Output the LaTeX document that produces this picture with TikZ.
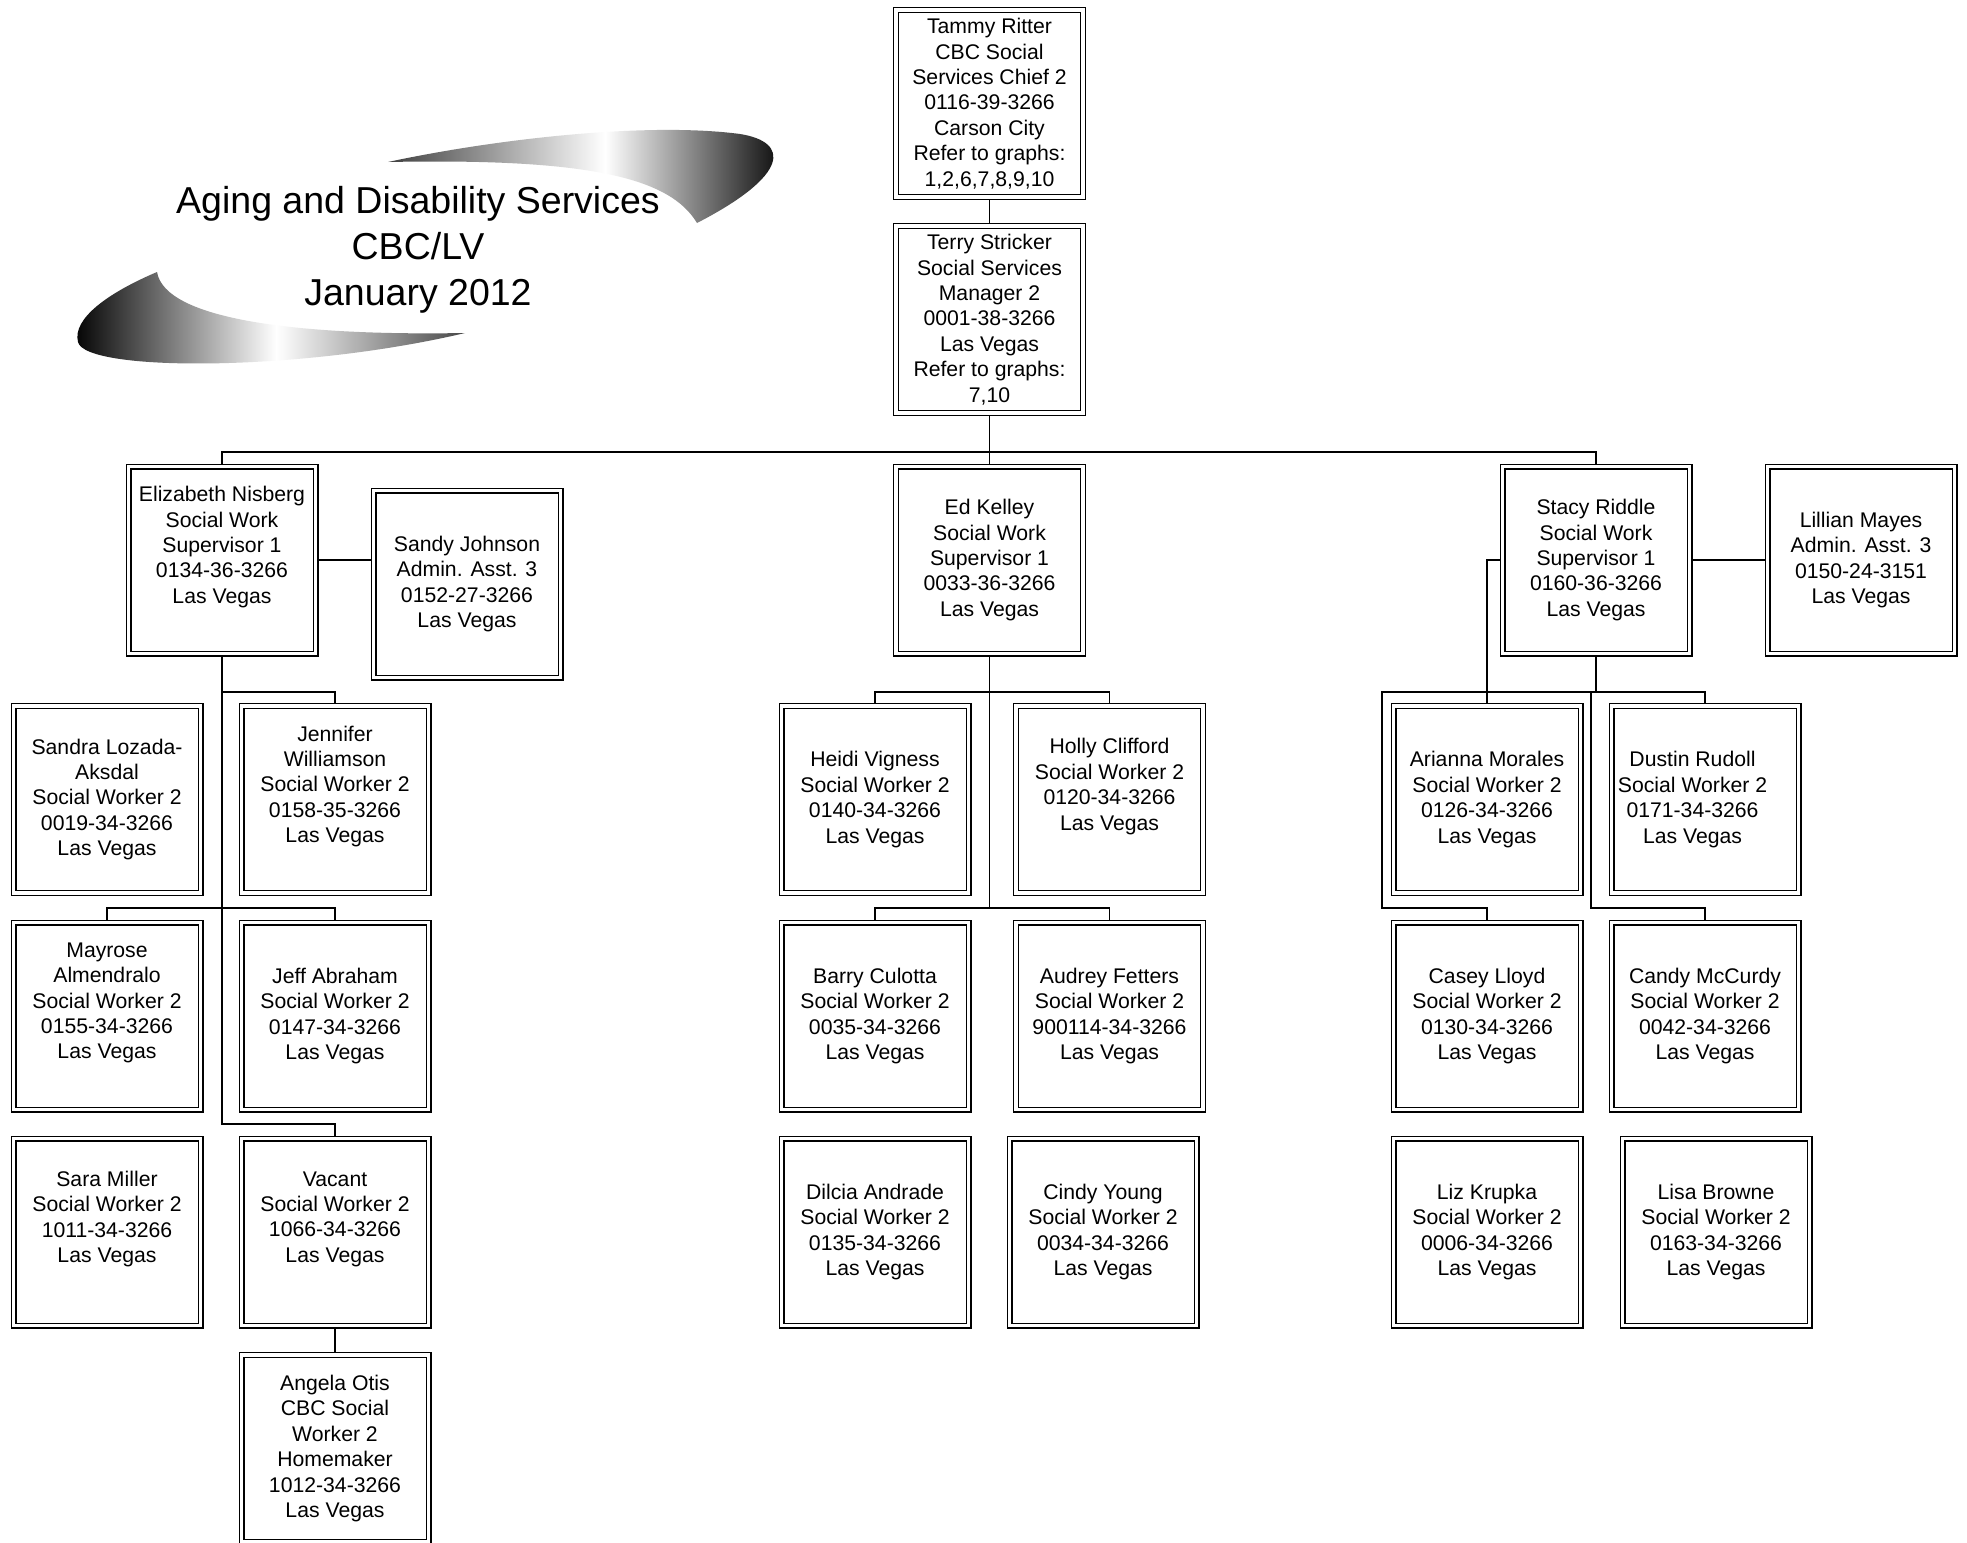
\documentclass[tikz,border=0pt]{standalone}
\usepackage{fontspec}
\setmainfont{Liberation Sans}
\pgfdeclarehorizontalshading{upswoosh}{100bp}{color(0bp)=(black!75); color(25bp)=(black!75); color(52bp)=(white); color(75bp)=(black); color(100bp)=(black)}
\pgfdeclarehorizontalshading{lowswoosh}{100bp}{color(0bp)=(black); color(25bp)=(black); color(51bp)=(white); color(75bp)=(black!72); color(100bp)=(black!72)}
\newcommand{\lshline}[1]{\mbox{#1\kern25pt}}
\begin{document}
\begin{tikzpicture}[x=1pt,y=-1pt,
  box/.style={draw, double, line width=1.3pt, double distance=3.4pt,
    minimum width=187pt, minimum height=187pt, inner sep=0pt, outer sep=3pt,
    align=center, font=\fontsize{21.2}{25.4}\selectfont},
  conn/.style={draw, line width=1.3pt},
  titletext/.style={align=center, font=\fontsize{37.5}{46}\selectfont}]
\useasboundingbox (0,0) rectangle (1967,1542);
\fill[white] (0,0) rectangle (1967,1542);

% title swooshes
\shade[shading=upswoosh] (388,162) .. controls (500,138) and (650,122) .. (740,134)
  .. controls (790,142) and (790,175) .. (697,223)
  .. controls (670,178) and (590,158) .. cycle;
\shade[shading=lowswoosh] (157,272) .. controls (110,292) and (72,318) .. (78,342)
  .. controls (85,372) and (300,372) .. (465,333)
  .. controls (300,336) and (165,320) .. cycle;
\node[titletext] (title) at (418,250) {Aging and Disability Services\\CBC/LV\\January 2012};

% boxes
\node[box] (tammy) at (989.5,103.5) {Tammy Ritter\\CBC Social\\Services Chief 2\\0116-39-3266\\Carson City\\Refer to graphs:\\1,2,6,7,8,9,10};
\node[box] (terry) at (989.5,319.5) {Terry Stricker\\Social Services\\Manager 2\\0001-38-3266\\Las Vegas\\Refer to graphs:\\7,10};
\node[box] (ed) at (989.5,560) {Ed Kelley\\Social Work\\Supervisor 1\\0033-36-3266\\Las Vegas};
\node[box] (eliz) at (222,560) {Elizabeth Nisberg\\Social Work\\Supervisor 1\\0134-36-3266\\Las Vegas\\[5pt]\mbox{}};
\node[box] (sandy) at (467,584) {Sandy Johnson\\Admin. Asst. 3\\0152-27-3266\\Las Vegas};
\node[box] (stacy) at (1596,560) {Stacy Riddle\\Social Work\\Supervisor 1\\0160-36-3266\\Las Vegas};
\node[box] (lillian) at (1861,560) {Lillian Mayes\\Admin. Asst. 3\\0150-24-3151\\Las Vegas};

\node[box] (sandra) at (107,799.5) {Sandra Lozada-\\Aksdal\\Social Worker 2\\0019-34-3266\\Las Vegas};
\node[box] (jennifer) at (335,799.5) {Jennifer\\Williamson\\Social Worker 2\\0158-35-3266\\Las Vegas\\[5pt]\mbox{}};
\node[box] (mayrose) at (107,1016) {Mayrose\\Almendralo\\Social Worker 2\\0155-34-3266\\Las Vegas\\[5pt]\mbox{}};
\node[box] (jeff) at (335,1016) {Jeff Abraham\\Social Worker 2\\0147-34-3266\\Las Vegas};
\node[box] (sara) at (107,1232) {Sara Miller\\Social Worker 2\\1011-34-3266\\Las Vegas\\[5pt]\mbox{}};
\node[box] (vacant) at (335,1232) {Vacant\\Social Worker 2\\1066-34-3266\\Las Vegas\\[5pt]\mbox{}};
\node[box] (angela) at (335,1448.5) {Angela Otis\\CBC Social\\Worker 2\\Homemaker\\1012-34-3266\\Las Vegas};

\node[box] (heidi) at (875,799.5) {Heidi Vigness\\Social Worker 2\\0140-34-3266\\Las Vegas};
\node[box] (holly) at (1109.5,799.5) {Holly Clifford\\Social Worker 2\\0120-34-3266\\Las Vegas\\[5pt]\mbox{}};
\node[box] (barry) at (875,1016) {Barry Culotta\\Social Worker 2\\0035-34-3266\\Las Vegas};
\node[box] (audrey) at (1109.5,1016) {Audrey Fetters\\Social Worker 2\\900114-34-3266\\Las Vegas};
\node[box] (dilcia) at (875,1232) {Dilcia Andrade\\Social Worker 2\\0135-34-3266\\Las Vegas};
\node[box] (cindy) at (1103,1232) {Cindy Young\\Social Worker 2\\0034-34-3266\\Las Vegas};

\node[box] (arianna) at (1487,799.5) {Arianna Morales\\Social Worker 2\\0126-34-3266\\Las Vegas};
\node[box] (dustin) at (1705,799.5) {\lshline{Dustin Rudoll}\\\lshline{Social Worker 2}\\\lshline{0171-34-3266}\\\lshline{Las Vegas}};
\node[box] (casey) at (1487,1016) {Casey Lloyd\\Social Worker 2\\0130-34-3266\\Las Vegas};
\node[box] (candy) at (1705,1016) {Candy McCurdy\\Social Worker 2\\0042-34-3266\\Las Vegas};
\node[box] (liz) at (1487,1232) {Liz Krupka\\Social Worker 2\\0006-34-3266\\Las Vegas};
\node[box] (lisa) at (1716,1232) {Lisa Browne\\Social Worker 2\\0163-34-3266\\Las Vegas};

% helper coordinates
\coordinate (h452) at (0,452);
\coordinate (h692) at (0,692);
\coordinate (h908) at (0,908);
\coordinate (h1124) at (0,1124);
\coordinate (v1382) at (1382,0);
\coordinate (v1591) at (1591,0);

% connectors
\draw[conn] (tammy.south) -- (terry.north);
\draw[conn] (terry.south) -- (ed.north);
\draw[conn] (eliz.north) -- (eliz.north |- h452) -- (stacy.north |- h452) -- (stacy.north);
\draw[conn] (eliz.east) -- (eliz.east -| sandy.west);
\draw[conn] (stacy.east) -- (lillian.west);

\draw[conn] (eliz.south) -- (eliz.south |- h1124) -| (vacant.north);
\draw[conn] (eliz.south |- h692) -| (jennifer.north);
\draw[conn] (mayrose.north) |- (eliz.south |- h908) -| (jeff.north);
\draw[conn] (vacant.south) -- (angela.north);

\draw[conn] (ed.south) -- (ed.south |- h908);
\draw[conn] (heidi.north) |- (ed.south |- h692) -| (holly.north);
\draw[conn] (barry.north) |- (ed.south |- h908) -| (audrey.north);

\draw[conn] (stacy.west) -| (arianna.north);
\draw[conn] (stacy.south) -- (stacy.south |- h692);
\draw[conn] (casey.north) |- (v1382 |- h908) -- (v1382 |- h692) -| (dustin.north);
\draw[conn] (candy.north) |- (v1591 |- h908) -- (v1591 |- h692);
\end{tikzpicture}
\end{document}
